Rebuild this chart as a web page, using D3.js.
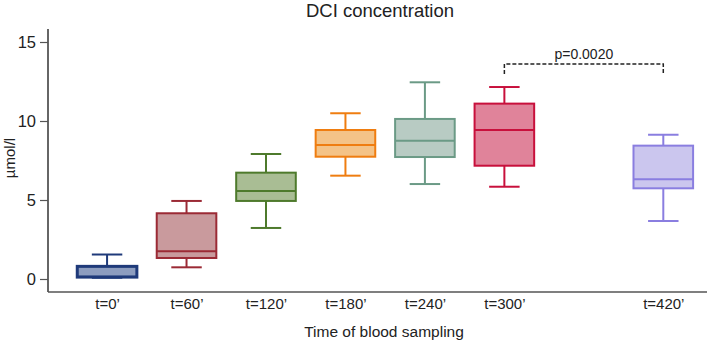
<!DOCTYPE html>
<html>
<head>
<meta charset="utf-8">
<script src="https://cdn.jsdelivr.net/npm/d3@7"></script>
<style>
  body { margin: 0; background: #fff; }
  text { font-family: Arial, "Liberation Sans", sans-serif; }
</style>
</head>
<body>
<div id="chart"></div>
<script>
// DCI concentration box plots by sampling time

// data
const times = [0, 60, 120, 180, 240, 300, 420];
const labels = ["t=0\u2019", "t=60\u2019", "t=120\u2019", "t=180\u2019", "t=240\u2019", "t=300\u2019", "t=420\u2019"];
const whiskerLow = [0.08, 0.74, 3.23, 6.54, 6.01, 5.84, 3.67];
const q1 = [0.12, 1.33, 4.94, 7.74, 7.72, 7.17, 5.74];
const median = [0.15, 1.75, 5.57, 8.48, 8.75, 9.43, 6.31];
const q3 = [0.8, 4.16, 6.73, 9.43, 10.13, 11.1, 8.44];
const whiskerHigh = [1.55, 4.94, 7.91, 10.49, 12.45, 12.15, 9.13];
const yTicks = [0, 5, 10, 15];
const strokes = ["#1f3a7a", "#9b2a35", "#4e7a2c", "#ef7d10", "#6b9a86", "#c8103c", "#8a7ee0"];
const fills = ["#8d9dbf", "#c99a9d", "#a9bd94", "#f4c387", "#b8cbc3", "#e0839a", "#cbc6ee"];
const compare = [300, 420];
const pText = "p=0.0020";

const width = 709, height = 343;
const font = "Arial, 'Liberation Sans', sans-serif";

const svg = d3.select("#chart")
    .append("svg")
    .attr("width", width)
    .attr("height", height);

// scales
const x = d3.scaleLinear()
    .domain([-44.6, 453])
    .range([48, 707]);
const y = d3.scaleLinear()
    .domain([0, 15])
    .range([279, 42]);

const boxW = x(45) - x(0);
const capW = x(23) - x(0);

// y axis
const yAxis = svg.append("g")
    .attr("transform", "translate(48,0)")
    .call(d3.axisLeft(y).tickValues(yTicks).tickSize(8).tickPadding(4));
yAxis.select(".domain").attr("d", "M0,29V292").attr("stroke", "#333").attr("stroke-width", 1.5);
yAxis.selectAll(".tick line").attr("stroke", "#555").attr("stroke-width", 1.2);
yAxis.selectAll(".tick text").attr("font-size", 16.5).attr("fill", "#222")
    .attr("font-family", font);

// x axis (labels only)
const xAxis = svg.append("g")
    .attr("transform", "translate(0,292)")
    .call(d3.axisBottom(x).tickValues(times).tickSize(0).tickPadding(6)
        .tickFormat((d, i) => labels[i]));
xAxis.select(".domain").attr("d", "M48,0H707").attr("stroke", "#555").attr("stroke-width", 1.5);
xAxis.selectAll(".tick text").attr("font-size", 15).attr("fill", "#222")
    .attr("font-family", font);

// titles
svg.append("text")
    .attr("x", 380).attr("y", 17)
    .attr("text-anchor", "middle")
    .attr("font-size", 18.5)
    .attr("fill", "#222")
    .text("DCI concentration");

svg.append("text")
    .attr("x", 384).attr("y", 337)
    .attr("text-anchor", "middle")
    .attr("font-size", 15.5)
    .attr("fill", "#222")
    .text("Time of blood sampling");

svg.append("text")
    .attr("transform", "rotate(-90)")
    .attr("x", -158).attr("y", 15)
    .attr("text-anchor", "middle")
    .attr("font-size", 15)
    .attr("fill", "#222")
    .text("\u00b5mol/l");

// boxes
const groups = svg.selectAll("g.box")
    .data(times)
    .enter()
    .append("g")
    .attr("class", "box");

groups.each(function(t, i) {
    const g = d3.select(this);
    const cx = x(t);
    const c = strokes[i];
    // whiskers
    g.append("line")
        .attr("x1", cx).attr("x2", cx)
        .attr("y1", y(whiskerHigh[i])).attr("y2", y(q3[i]))
        .attr("stroke", c).attr("stroke-width", 2);
    g.append("line")
        .attr("x1", cx).attr("x2", cx)
        .attr("y1", y(q1[i])).attr("y2", y(whiskerLow[i]))
        .attr("stroke", c).attr("stroke-width", 2);
    g.append("line")
        .attr("x1", cx - capW / 2).attr("x2", cx + capW / 2)
        .attr("y1", y(whiskerHigh[i])).attr("y2", y(whiskerHigh[i]))
        .attr("stroke", c).attr("stroke-width", 2);
    g.append("line")
        .attr("x1", cx - capW / 2).attr("x2", cx + capW / 2)
        .attr("y1", y(whiskerLow[i])).attr("y2", y(whiskerLow[i]))
        .attr("stroke", c).attr("stroke-width", 2);
    // box
    g.append("rect")
        .attr("x", cx - boxW / 2)
        .attr("width", boxW)
        .attr("y", y(q3[i]))
        .attr("height", y(q1[i]) - y(q3[i]))
        .attr("fill", fills[i])
        .attr("stroke", c)
        .attr("stroke-width", i === 0 ? 3 : 2);
    // median
    g.append("line")
        .attr("x1", cx - boxW / 2).attr("x2", cx + boxW / 2)
        .attr("y1", y(median[i])).attr("y2", y(median[i]))
        .attr("stroke", c).attr("stroke-width", 2);
});

// significance bracket
const bx1 = x(compare[0]), bx2 = x(compare[1]);
const by = 64, byEnd = 74;
svg.append("path")
    .attr("d", `M${bx1},${byEnd}V${by}H${bx2}V${byEnd}`)
    .attr("fill", "none")
    .attr("stroke", "#222")
    .attr("stroke-width", 1.5)
    .attr("stroke-dasharray", "4,2");
svg.append("text")
    .attr("x", (bx1 + bx2) / 2).attr("y", 59)
    .attr("text-anchor", "middle")
    .attr("font-size", 14)
    .attr("fill", "#222")
    .text(pText);
</script>
</body>
</html>
